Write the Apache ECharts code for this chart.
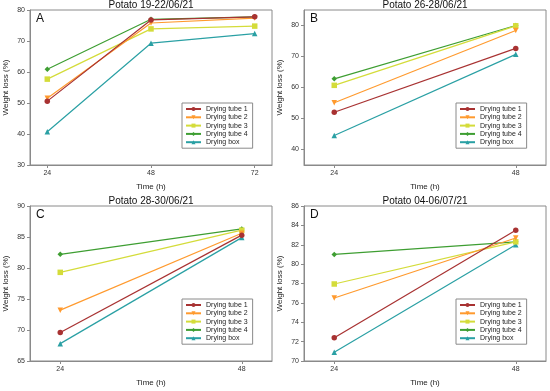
<!DOCTYPE html>
<html><head><meta charset="utf-8">
<script src="https://cdn.jsdelivr.net/npm/echarts@6/dist/echarts.min.js"></script>
<style>html,body{margin:0;padding:0;background:#fff}#c{width:550px;height:391px}</style>
</head><body><div id="c"></div>
<script>
var seriesNames = ["Drying tube 1", "Drying tube 2", "Drying tube 3", "Drying tube 4", "Drying box"];
var titles = ["Potato 19-22/06/21", "Potato 26-28/06/21", "Potato 28-30/06/21", "Potato 04-06/07/21"];
var letters = ["A", "B", "C", "D"];
var timesA = [24, 48, 72];
var timesBCD = [24, 48];
// Panel A values
var a_tube1 = [50.6, 76.8, 77.8];
var a_tube2 = [51.5, 75.8, 77.4];
var a_tube3 = [57.7, 73.9, 74.8];
var a_tube4 = [60.9, 77.0, 77.8];
var a_box   = [40.7, 69.3, 72.4];
// Panel B values
var b_tube1 = [52.0, 72.6];
var b_tube2 = [55.1, 78.4];
var b_tube3 = [60.7, 79.9];
var b_tube4 = [62.8, 80.0];
var b_box   = [44.5, 70.7];
// Panel C values
var c_tube1 = [69.6, 85.3];
var c_tube2 = [73.2, 85.6];
var c_tube3 = [79.3, 86.1];
var c_tube4 = [82.2, 86.3];
var c_box   = [67.8, 84.9];
// Panel D values
var d_tube1 = [72.4, 83.5];
var d_tube2 = [76.5, 82.7];
var d_tube3 = [77.95, 82.3];
var d_tube4 = [81.0, 82.3];
var d_box   = [70.9, 82.0];
// tick labels
var xTicksA = [24, 48, 72];
var xTicksBCD = [24, 48];
var yTicksA = [30, 40, 50, 60, 70, 80];
var yTicksB = [40, 50, 60, 70, 80];
var yTicksC = [65, 70, 75, 80, 85, 90];
var yTicksD = [70, 72, 74, 76, 78, 80, 82, 84, 86];

var colors = ["#a83232", "#ff9a2e", "#d4dc3a", "#3e9e32", "#2aa0a4"];
var symbols = ["circle", "triangle", "rect", "diamond", "triangle"];
var symRot = [0, 180, 0, 0, 0];

var panels = [
  {x: timesA, data: [a_tube1, a_tube2, a_tube3, a_tube4, a_box], xmin: 20, xmax: 76, xt: xTicksA, ymin: 30, ymax: 80, yt: yTicksA, left: 30, top: 10},
  {x: timesBCD, data: [b_tube1, b_tube2, b_tube3, b_tube4, b_box], xmin: 20, xmax: 52, xt: xTicksBCD, ymin: 35, ymax: 85, yt: yTicksB, left: 304, top: 10},
  {x: timesBCD, data: [c_tube1, c_tube2, c_tube3, c_tube4, c_box], xmin: 20, xmax: 52, xt: xTicksBCD, ymin: 65, ymax: 90, yt: yTicksC, left: 30, top: 206},
  {x: timesBCD, data: [d_tube1, d_tube2, d_tube3, d_tube4, d_box], xmin: 20, xmax: 52, xt: xTicksBCD, ymin: 70, ymax: 86, yt: yTicksD, left: 304, top: 206}
];
var W = 242, H = 155;
var axisColor = "#8a8a8a";
var font = "Liberation Sans, Arial, sans-serif";

var option = {
  animation: false,
  backgroundColor: "#fff",
  title: [], grid: [], xAxis: [], yAxis: [], series: [], legend: []
};

panels.forEach(function (p, i) {
  option.grid.push({left: p.left, top: p.top, width: W, height: H, show: true, borderColor: axisColor, borderWidth: 1, containLabel: false});
  option.title.push({text: titles[i], left: p.left + W / 2, top: p.top - 10, textAlign: "center", padding: 0,
    textStyle: {fontSize: 10, fontWeight: "normal", color: "#111", fontFamily: font}});
  option.title.push({text: letters[i], left: p.left + 6, top: p.top + 3, padding: 0,
    textStyle: {fontSize: 12, fontWeight: "normal", color: "#111", fontFamily: font}});
  option.xAxis.push({type: "value", gridIndex: i, min: p.xmin, max: p.xmax,
    name: "Time (h)", nameLocation: "middle", nameGap: 18,
    nameTextStyle: {fontSize: 8, color: "#222", fontFamily: font},
    axisLine: {show: true, lineStyle: {color: axisColor}},
    axisTick: {show: true, length: 3, customValues: p.xt, lineStyle: {color: axisColor}},
    axisLabel: {customValues: p.xt, fontSize: 7, color: "#333", margin: 5, fontFamily: font},
    splitLine: {show: false}});
  option.yAxis.push({type: "value", gridIndex: i, min: p.ymin, max: p.ymax,
    name: "Weight loss (%)", nameLocation: "middle", nameGap: 20,
    nameTextStyle: {fontSize: 8, color: "#222", fontFamily: font},
    axisLine: {show: true, lineStyle: {color: axisColor}},
    axisTick: {show: true, length: 3, customValues: p.yt, lineStyle: {color: axisColor}},
    axisLabel: {customValues: p.yt, fontSize: 7, color: "#333", margin: 5, fontFamily: font},
    splitLine: {show: false}});
  p.data.forEach(function (vals, k) {
    option.series.push({
      type: "line", name: seriesNames[k], xAxisIndex: i, yAxisIndex: i,
      data: p.x.map(function (t, j) { return [t, vals[j]]; }),
      symbol: symbols[k], symbolRotate: symRot[k], symbolSize: 5.5, showSymbol: true,
      lineStyle: {color: colors[k], width: 1.2},
      itemStyle: {color: colors[k]},
      z: 10 - k
    });
  });
  option.legend.push({
    data: seriesNames, orient: "vertical", left: p.left + 152, top: p.top + 93,
    itemWidth: 15, itemHeight: 5, itemGap: 1.3, padding: [2.5, 5, 2.5, 3],
    borderColor: axisColor, borderWidth: 1, backgroundColor: "#fff",
    textStyle: {fontSize: 7, lineHeight: 7, color: "#222", fontFamily: font, padding: [0, 0, 0, 0]},
    selectedMode: false
  });
});

var chart = echarts.init(document.getElementById("c"), null, {renderer: "canvas"});
chart.setOption(option);
</script></body></html>
